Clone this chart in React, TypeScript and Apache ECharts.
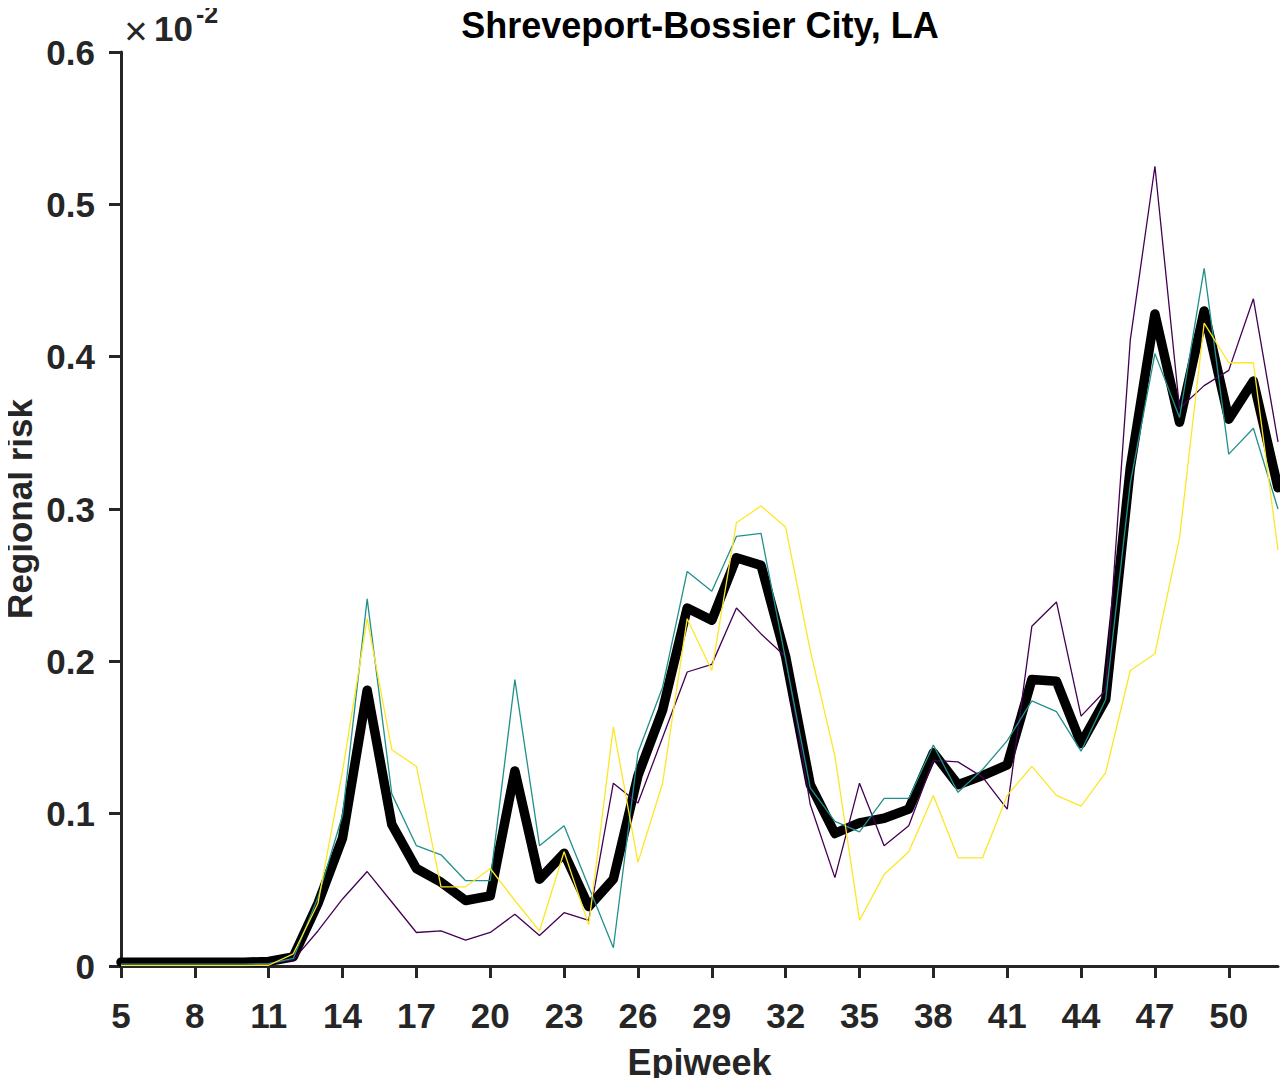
import React, { useEffect, useRef } from "react";
import * as echarts from "echarts";

const weeks = [5, 6, 7, 8, 9, 10, 11, 12, 13, 14, 15, 16, 17, 18, 19, 20, 21, 22, 23, 24, 25, 26, 27, 28, 29, 30, 31, 32, 33, 34, 35, 36, 37, 38, 39, 40, 41, 42, 43, 44, 45, 46, 47, 48, 49, 50, 51, 52];

const xTicks = [5, 8, 11, 14, 17, 20, 23, 26, 29, 32, 35, 38, 41, 44, 47, 50];

const meanRisk = [0.0025, 0.0025, 0.0025, 0.0025, 0.0025, 0.0025, 0.003, 0.006, 0.041, 0.084, 0.181, 0.093, 0.064, 0.055, 0.043, 0.046, 0.128, 0.057, 0.074, 0.039, 0.057, 0.125, 0.168, 0.235, 0.227, 0.268, 0.263, 0.203, 0.119, 0.087, 0.094, 0.097, 0.103, 0.14, 0.119, 0.125, 0.132, 0.188, 0.187, 0.146, 0.175, 0.327, 0.428, 0.357, 0.43, 0.359, 0.384, 0.314];

const purpleRisk = [0.001, 0.001, 0.001, 0.001, 0.001, 0.001, 0.0015, 0.004, 0.023, 0.044, 0.062, 0.042, 0.022, 0.023, 0.017, 0.022, 0.034, 0.02, 0.035, 0.03, 0.12, 0.107, 0.15, 0.193, 0.198, 0.235, 0.218, 0.203, 0.106, 0.058, 0.12, 0.079, 0.092, 0.135, 0.134, 0.124, 0.103, 0.223, 0.239, 0.164, 0.181, 0.411, 0.525, 0.366, 0.381, 0.391, 0.438, 0.344];

const tealRisk = [0.0012, 0.0012, 0.0012, 0.0012, 0.0012, 0.0012, 0.0015, 0.005, 0.045, 0.099, 0.241, 0.113, 0.079, 0.073, 0.056, 0.056, 0.188, 0.079, 0.092, 0.052, 0.012, 0.14, 0.183, 0.259, 0.246, 0.282, 0.284, 0.201, 0.117, 0.095, 0.088, 0.11, 0.11, 0.145, 0.114, 0.129, 0.148, 0.174, 0.167, 0.141, 0.175, 0.317, 0.402, 0.36, 0.458, 0.336, 0.353, 0.3];

const yellowRisk = [0.0003, 0.0003, 0.0003, 0.0003, 0.0003, 0.0003, 0.0005, 0.008, 0.041, 0.128, 0.228, 0.142, 0.131, 0.052, 0.052, 0.064, 0.043, 0.023, 0.075, 0.027, 0.157, 0.068, 0.12, 0.228, 0.194, 0.291, 0.302, 0.288, 0.207, 0.138, 0.03, 0.06, 0.075, 0.112, 0.071, 0.071, 0.112, 0.131, 0.112, 0.105, 0.127, 0.194, 0.205, 0.281, 0.422, 0.396, 0.396, 0.273];

const FONT = '"Liberation Sans", Arial, Helvetica, sans-serif';
const AXIS_COLOR = "#262626";

function pairs(vals: number[]) {
  return weeks.map((w, i) => [w, vals[i]]);
}

export default function App() {
  const ref = useRef<HTMLDivElement>(null);

  useEffect(() => {
    if (!ref.current) return;
    const chart = echarts.init(ref.current, null, { renderer: "svg" });

    const thin = (name: string, color: string, vals: number[]) => ({
      name,
      type: "line",
      data: pairs(vals),
      showSymbol: false,
      symbol: "none",
      z: 3,
      lineStyle: { color, width: 1.3 },
    });

    chart.setOption({
      animation: false,
      backgroundColor: "#ffffff",
      grid: { left: 121, right: 10, top: 52, bottom: 120, containLabel: false, outerBoundsMode: "none" },
      xAxis: {
        type: "value",
        min: 5,
        max: 52,
        name: "Epiweek",
        nameLocation: "middle",
        nameGap: 78,
        nameMoveOverlap: false,
        nameTextStyle: { fontFamily: FONT, fontWeight: "bold", fontSize: 36, color: AXIS_COLOR },
        axisLine: { show: true, lineStyle: { color: AXIS_COLOR, width: 3 } },
        axisTick: { show: true, inside: false, length: 12, customValues: xTicks, lineStyle: { color: AXIS_COLOR, width: 3 } },
        axisLabel: {
          customValues: xTicks,
          margin: 32,
          fontFamily: FONT,
          fontWeight: "bold",
          fontSize: 35,
          color: AXIS_COLOR,
        },
        splitLine: { show: false },
      },
      yAxis: {
        type: "value",
        min: 0,
        max: 0.6,
        interval: 0.1,
        name: "Regional risk",
        nameLocation: "middle",
        nameGap: 84,
        nameMoveOverlap: false,
        nameTextStyle: { fontFamily: FONT, fontWeight: "bold", fontSize: 35, color: AXIS_COLOR },
        axisLine: { show: true, lineStyle: { color: AXIS_COLOR, width: 3 } },
        axisTick: { show: true, inside: false, length: 12, lineStyle: { color: AXIS_COLOR, width: 3 } },
        axisLabel: {
          margin: 26,
          fontFamily: FONT,
          fontWeight: "bold",
          fontSize: 35,
          color: AXIS_COLOR,
          formatter: (v: number) => String(Math.round(v * 10) / 10),
        },
        splitLine: { show: false },
      },
      graphic: [
        {
          type: "text",
          x: 700,
          y: 25,
          style: {
            text: "Shreveport-Bossier City, LA",
            fontFamily: FONT,
            fontWeight: "bold",
            fontSize: 36,
            fill: "#000000",
            textAlign: "center",
            textVerticalAlign: "middle",
          },
        },
        {
          type: "text",
          x: 136,
          y: 31,
          style: {
            text: "×",
            fontFamily: FONT,
            fontSize: 40,
            fill: AXIS_COLOR,
            textAlign: "center",
            textVerticalAlign: "middle",
          },
        },
        {
          type: "text",
          x: 154,
          y: 28,
          style: {
            text: "10",
            fontFamily: FONT,
            fontWeight: "bold",
            fontSize: 35,
            fill: AXIS_COLOR,
            textAlign: "left",
            textVerticalAlign: "middle",
          },
        },
        {
          type: "text",
          x: 196,
          y: 14,
          style: {
            text: "-2",
            fontFamily: FONT,
            fontWeight: "bold",
            fontSize: 25,
            fill: AXIS_COLOR,
            textAlign: "left",
            textVerticalAlign: "middle",
          },
        },
      ],
      series: [
        {
          name: "Mean",
          type: "line",
          data: pairs(meanRisk),
          showSymbol: false,
          symbol: "none",
          z: 2,
          lineStyle: { color: "#000000", width: 9.5, join: "round", cap: "round" },
        },
        thin("Sample 1", "#440154", purpleRisk),
        thin("Sample 2", "#21908C", tealRisk),
        thin("Sample 3", "#FDE725", yellowRisk),
      ],
    });

    return () => chart.dispose();
  }, []);

  return <div ref={ref} style={{ width: 1288, height: 1086, margin: -8 }} />;
}
